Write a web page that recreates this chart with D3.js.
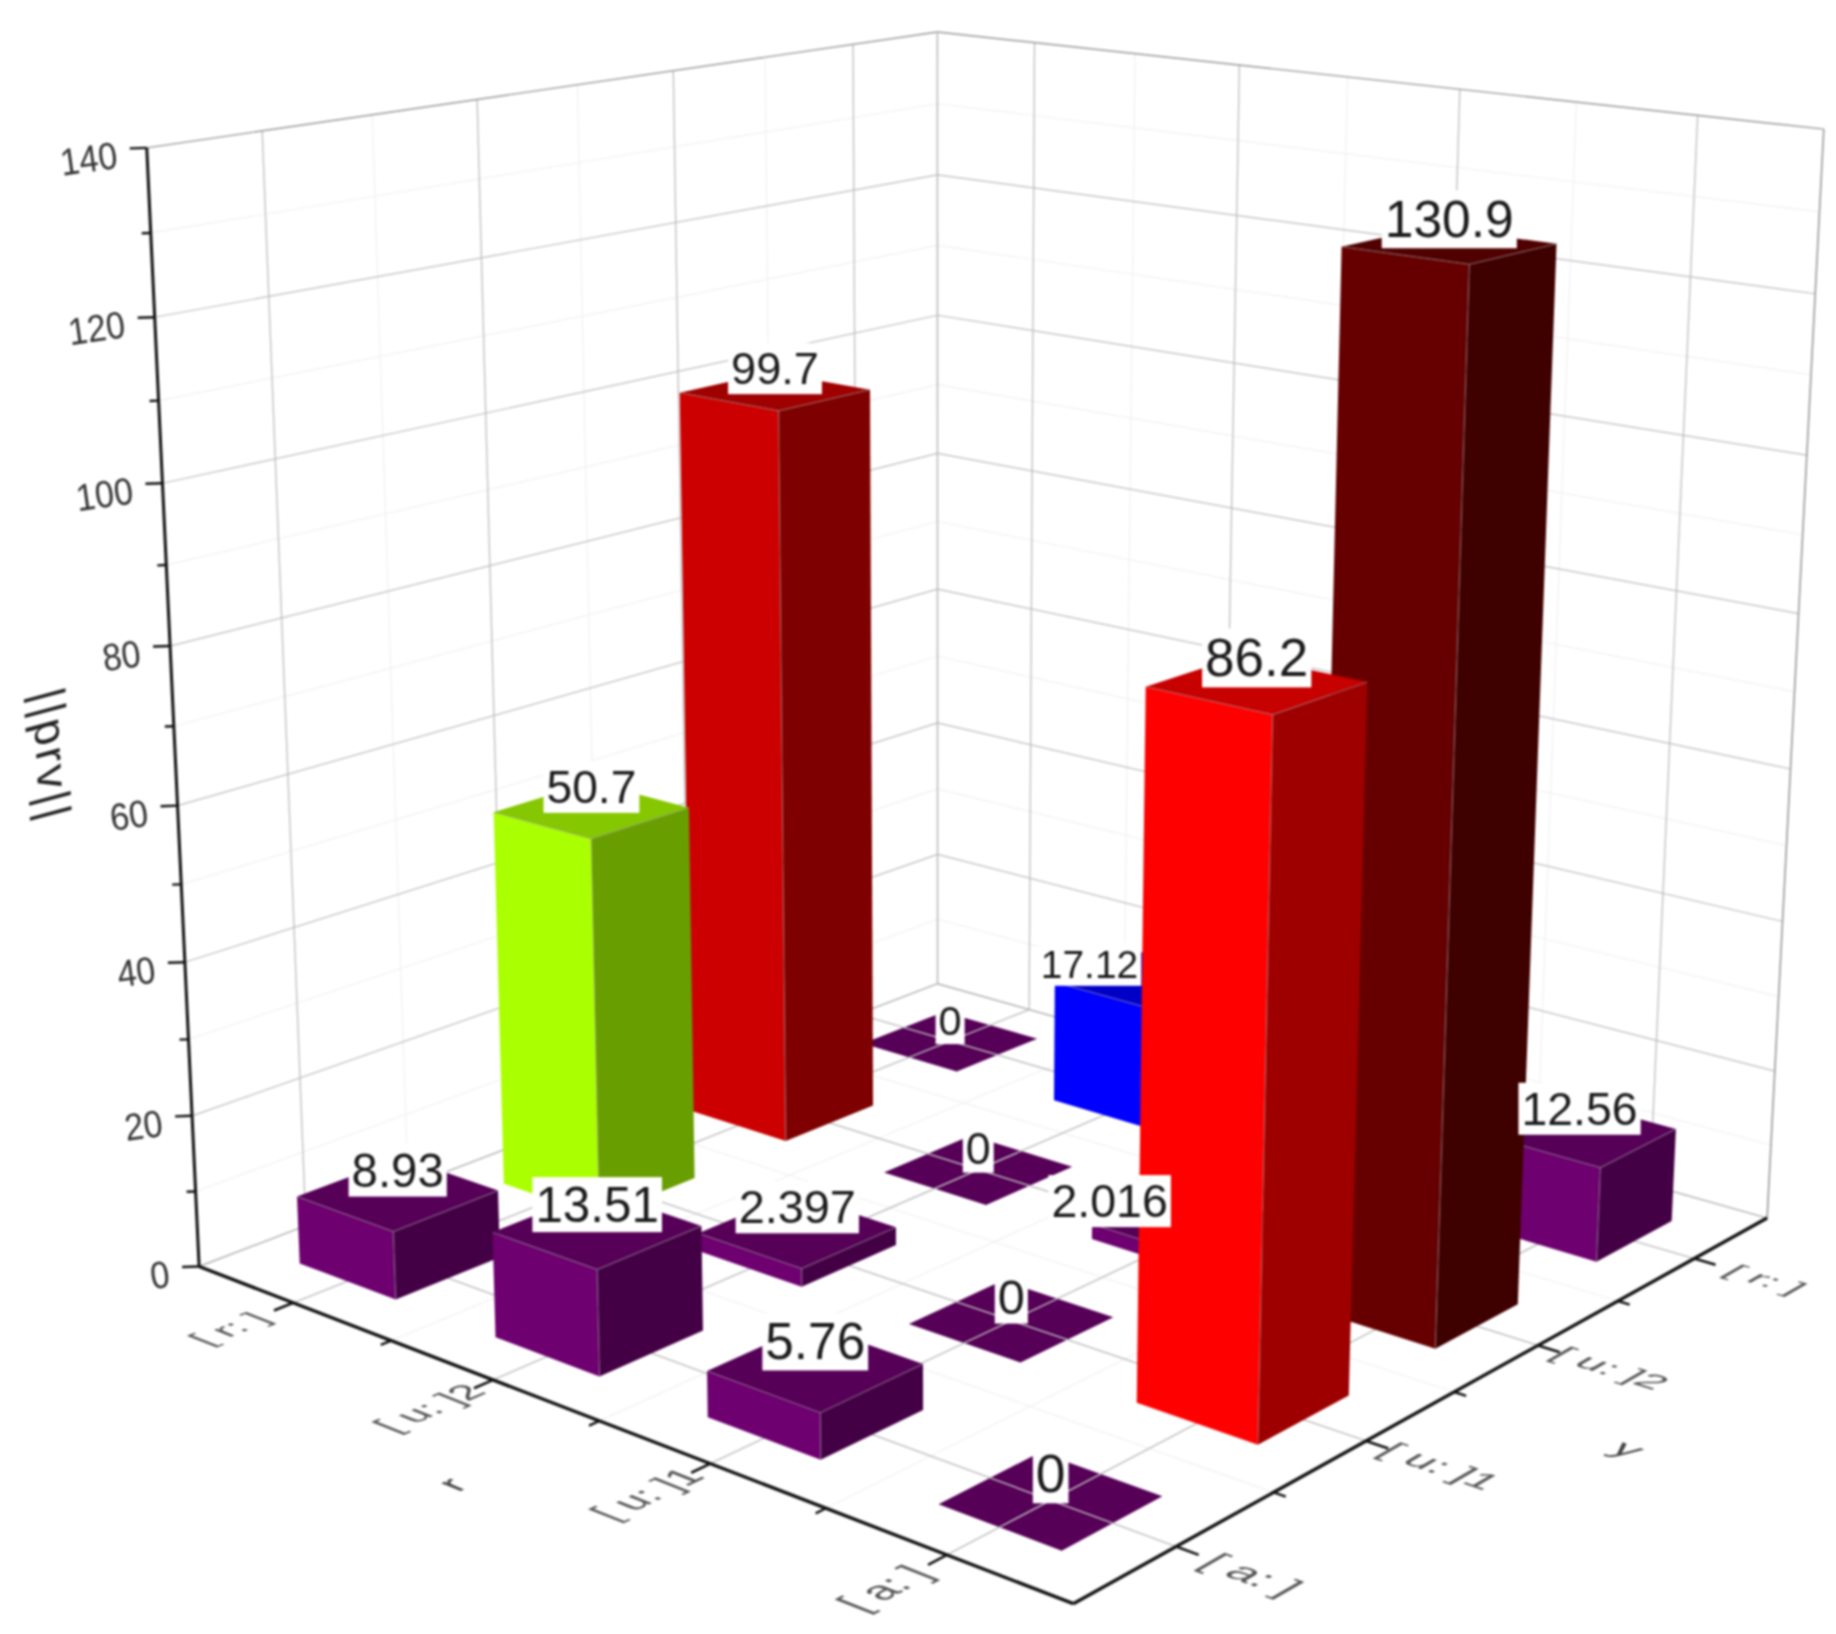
<!DOCTYPE html>
<html>
<head>
<meta charset="utf-8">
<script src="https://cdn.jsdelivr.net/npm/d3@7"></script>
<style>
  body { margin: 0; background: #fff; }
  svg { display: block; filter: blur(0.8px); }
  text { font-family: "Liberation Sans", Arial, sans-serif; }
</style>
</head>
<body>
<script>
var width = 1836;
var height = 1634;

// Categories, ticks and values.
var rCats = ['[ r: ]', '[ u: ]2', '[ u: ]1', '[ a: ]'];
var yCats = ['[ r: ]', '[ u: ]2', '[ u: ]1', '[ a: ]'];
var zMajor = [0, 20, 40, 60, 80, 100, 120, 140];
var zMinor = [10, 30, 50, 70, 90, 110, 130];
// One row per y category, one entry per r category. null = hidden in the picture.
var rowR = [0, 17.12, null, 12.56];
var rowU2 = [99.7, 0, 2.016, 130.9];
var rowU1 = [50.7, 2.397, 0, 86.2];
var rowA = [8.93, 13.51, 5.76, 0];
var rows = [rowR, rowU2, rowU1, rowA];

// Where the box corners land on the page, used to fit the perspective.
var boxWorld = [[0,1,0],[0,0,0],[1,0,0],[1,1,0],[0,1,1],[0,0,1],[1,0,1]];
var boxPage = [[200,1267],[937,984],[1768,1217],[1072,1604],[147,147],[937,32],[1824,130]];

// Two labels were dragged off their bars in the original.
var labelMoved = {
  '17.12': {dx: -56, dy: 3, k: 0.9},
  '2.016': {dx: -80, dy: 3, k: 1}
};

// Solve x = (a0+a1u+a2v+a3w)/(1+d1u+d2v+d3w), same for y, by least squares.
function solve(A, b) {
  var n = b.length, M = A.map(function(r, i) { return r.concat(b[i]); });
  for (var i = 0; i < n; i++) {
    var p = i;
    for (var k = i + 1; k < n; k++) if (Math.abs(M[k][i]) > Math.abs(M[p][i])) p = k;
    var t = M[i]; M[i] = M[p]; M[p] = t;
    for (var k2 = 0; k2 < n; k2++) {
      if (k2 === i) continue;
      var f = M[k2][i] / M[i][i];
      for (var j = i; j <= n; j++) M[k2][j] -= f * M[i][j];
    }
  }
  return M.map(function(r, i) { return r[n] / r[i]; });
}
function fitCamera() {
  var rowsA = [], rhs = [];
  boxWorld.forEach(function(X, i) {
    var x = boxPage[i][0] / 1000, y = boxPage[i][1] / 1000;
    rowsA.push([1, X[0], X[1], X[2], 0, 0, 0, 0, -x*X[0], -x*X[1], -x*X[2]]); rhs.push(x);
    rowsA.push([0, 0, 0, 0, 1, X[0], X[1], X[2], -y*X[0], -y*X[1], -y*X[2]]); rhs.push(y);
  });
  var AtA = d3.range(11).map(function(i) {
    return d3.range(11).map(function(j) { return d3.sum(rowsA, function(r) { return r[i]*r[j]; }); });
  });
  var Atb = d3.range(11).map(function(i) { return d3.sum(rowsA, function(r, k) { return r[i]*rhs[k]; }); });
  return solve(AtA, Atb);
}
var cam = fitCamera();
function depth(u, v, w) { return 1 + cam[8]*u + cam[9]*v + cam[10]*w; }
function project(u, v, w) {
  var d = depth(u, v, w);
  return [1000*(cam[0]+cam[1]*u+cam[2]*v+cam[3]*w)/d, 1000*(cam[4]+cam[5]*u+cam[6]*v+cam[7]*w)/d];
}

// Scales.
var r = d3.scaleBand().domain(rCats).range([0, 1]);
var y = d3.scaleBand().domain(yCats).range([0, 1]);
var z = d3.scaleLinear().domain([0, 140]).range([0, 1]);
var half = r.bandwidth() / 4;
var majorPos = rCats.map(function(c) { return r(c) + r.bandwidth()/2; });
var minorPos = rCats.slice(1).map(function(c) { return r(c); });
var color = d3.scaleThreshold()
  .domain([15, 30, 70, 90, 115])
  .range(['#6e0070', '#0000ff', '#aaff00', '#ff0000', '#cc0000', '#660000']);
function shade(c, k) {
  var o = d3.rgb(c);
  return d3.rgb(o.r*k, o.g*k, o.b*k).formatHex();
}

var svg = d3.select('body').append('svg')
  .attr('width', width)
  .attr('height', height);
var path = d3.line();

function seg(g, a, b, stroke, sw) {
  var p = project(a[0], a[1], a[2]), q = project(b[0], b[1], b[2]);
  g.append('line')
    .attr('x1', p[0]).attr('y1', p[1]).attr('x2', q[0]).attr('y2', q[1])
    .attr('stroke', stroke).attr('stroke-width', sw);
}

// Walls.
var walls = svg.append('g');
var minorCol = '#f1f1f1', majorCol = '#bdbdbd';
minorPos.forEach(function(t) {
  seg(walls, [0, t, 0], [0, t, 1], minorCol, 1.2);
  seg(walls, [t, 0, 0], [t, 0, 1], minorCol, 1.2);
});
zMinor.forEach(function(t) {
  seg(walls, [0, 0, z(t)], [0, 1, z(t)], minorCol, 1.2);
  seg(walls, [0, 0, z(t)], [1, 0, z(t)], minorCol, 1.2);
});
majorPos.forEach(function(t) {
  seg(walls, [0, t, 0], [0, t, 1], majorCol, 1.3);
  seg(walls, [t, 0, 0], [t, 0, 1], majorCol, 1.3);
});
zMajor.slice(1, -1).forEach(function(t) {
  seg(walls, [0, 0, z(t)], [0, 1, z(t)], majorCol, 1.2);
  seg(walls, [0, 0, z(t)], [1, 0, z(t)], majorCol, 1.2);
});
seg(walls, [0, 0, 1], [0, 1, 1], '#999', 1.4);
seg(walls, [0, 0, 1], [1, 0, 1], '#999', 1.4);
seg(walls, [0, 0, 0], [0, 0, 1], '#bbb', 1.6);
seg(walls, [1, 0, 0], [1, 0, 1], '#999', 1.6);
seg(walls, [0, 0, 0], [0, 1, 0], '#b0b0b0', 1.4);
seg(walls, [0, 0, 0], [1, 0, 0], '#b0b0b0', 1.4);

// Flatten the matrix into bars, far ones first.
var bars = [];
rows.forEach(function(row, j) {
  row.forEach(function(val, i) {
    if (val === null) return;
    bars.push({
      value: val,
      u: r(rCats[i]) + r.bandwidth()/2,
      v: y(yCats[j]) + y.bandwidth()/2
    });
  });
});
bars.sort(function(a, b) { return (a.u + a.v) - (b.u + b.v); });

function topFace(d) {
  var w = z(d.value);
  return [project(d.u-half, d.v-half, w), project(d.u+half, d.v-half, w),
          project(d.u+half, d.v+half, w), project(d.u-half, d.v+half, w)];
}
function leftFace(d) {
  var w = z(d.value);
  return [project(d.u-half, d.v+half, w), project(d.u+half, d.v+half, w),
          project(d.u+half, d.v+half, 0), project(d.u-half, d.v+half, 0)];
}
function rightFace(d) {
  var w = z(d.value);
  return [project(d.u+half, d.v+half, w), project(d.u+half, d.v-half, w),
          project(d.u+half, d.v-half, 0), project(d.u+half, d.v+half, 0)];
}

// Zero bars lie under the floor grid, the others stand on it.
svg.append('g').selectAll('path')
  .data(bars.filter(function(d) { return d.value === 0; }))
  .enter().append('path')
  .attr('d', function(d) { return path(topFace(d)) + 'Z'; })
  .attr('fill', function(d) { return shade(color(d.value), 0.78); });

var floor = svg.append('g');
minorPos.forEach(function(t) {
  seg(floor, [t, 0, 0], [t, 1, 0], minorCol, 1.2);
  seg(floor, [0, t, 0], [1, t, 0], minorCol, 1.2);
});
majorPos.forEach(function(t) {
  seg(floor, [t, 0, 0], [t, 1, 0], majorCol, 1.4);
  seg(floor, [0, t, 0], [1, t, 0], majorCol, 1.4);
});

var barG = svg.append('g').selectAll('g')
  .data(bars.filter(function(d) { return d.value > 0; }))
  .enter().append('g');
barG.append('path')
  .attr('d', function(d) { return path(leftFace(d)) + 'Z'; })
  .attr('fill', function(d) { return color(d.value); });
barG.append('path')
  .attr('d', function(d) { return path(rightFace(d)) + 'Z'; })
  .attr('fill', function(d) { return shade(color(d.value), 0.62); });
barG.append('path')
  .attr('d', function(d) { return path(topFace(d)) + 'Z'; })
  .attr('fill', function(d) { return shade(color(d.value), 0.78); });
// Only the three edges meeting at the front top corner show.
barG.each(function(d) {
  var g = d3.select(this), w = z(d.value);
  var c = [d.u+half, d.v+half, w];
  var edge = 'rgba(150,150,150,0.45)';
  seg(g, c, [d.u+half, d.v+half, 0], edge, 1.3);
  seg(g, c, [d.u-half, d.v+half, w], edge, 1.3);
  seg(g, c, [d.u+half, d.v-half, w], edge, 1.3);
});

// Axes.
var axes = svg.append('g');
seg(axes, [0, 1, 0], [0, 1, 1], '#111', 3);
seg(axes, [0, 1, 0], [1, 1, 0], '#111', 3.4);
seg(axes, [1, 0, 0], [1, 1, 0], '#111', 3.4);

function zTick(t, len) {
  var p = project(0, 1, z(t));
  axes.append('line')
    .attr('x1', p[0]).attr('y1', p[1]).attr('x2', p[0]-len).attr('y2', p[1]+len*0.03)
    .attr('stroke', '#111').attr('stroke-width', 2.4);
}
zMajor.forEach(function(t) { zTick(t, 17); });
zMinor.forEach(function(t) { zTick(t, 9); });
axes.selectAll('.zlabel')
  .data(zMajor)
  .enter().append('text')
  .attr('class', 'zlabel')
  .attr('transform', function(d) {
    var p = project(0, 1, z(d));
    return 'translate(' + (p[0]-28) + ',' + (p[1]+20) + ') rotate(-8) scale(0.9,1)';
  })
  .attr('text-anchor', 'end')
  .attr('font-size', 38)
  .attr('fill', '#333')
  .text(function(d) { return d; });

majorPos.forEach(function(t) {
  seg(axes, [t, 1, 0], [t, 1.022, 0], '#111', 2.6);
  seg(axes, [1, t, 0], [1.022, t, 0], '#111', 2.6);
});
minorPos.forEach(function(t) {
  seg(axes, [t, 1, 0], [t, 1.012, 0], '#111', 2.4);
  seg(axes, [1, t, 0], [1.012, t, 0], '#111', 2.4);
});

// Category labels lie flat on the floor, so map text through the local perspective.
var em = 0.042, localSize = 20;
function floorText(txt, u, v, base, down, size, fill) {
  var e = 0.001;
  var p = project(u, v, 0);
  var pu = project(u+e, v, 0), pv = project(u, v+e, 0);
  var ju = [(pu[0]-p[0])/e, (pu[1]-p[1])/e], jv = [(pv[0]-p[0])/e, (pv[1]-p[1])/e];
  var k = size / localSize;
  var bx = base[0]*ju[0] + base[1]*jv[0], by = base[0]*ju[1] + base[1]*jv[1];
  var dx = down[0]*ju[0] + down[1]*jv[0], dy = down[0]*ju[1] + down[1]*jv[1];
  svg.append('text')
    .attr('transform', 'matrix(' + [bx*k, by*k, dx*k, dy*k, p[0], p[1]].join(',') + ')')
    .attr('font-size', localSize)
    .attr('text-anchor', 'middle')
    .attr('dy', '0.35em')
    .attr('fill', fill)
    .text(txt);
}
rCats.forEach(function(c) {
  floorText(c, r(c) + r.bandwidth()/2, 1.073, [0, -1], [1, 0], em, '#555');
});
yCats.forEach(function(c) {
  floorText(c, 1.073, y(c) + y.bandwidth()/2, [1, 0], [0, 1], em, '#555');
});
floorText('r', 0.495, 1.16, [0, -1], [1, 0], em, '#444');
floorText('y', 1.17, 0.5, [1, 0], [0, 1], em, '#444');

// Vertical axis title.
svg.append('text')
  .attr('transform', 'matrix(0.05,1,-0.966,0.259,52,755)')
  .attr('font-size', 46)
  .attr('letter-spacing', 3)
  .attr('text-anchor', 'middle')
  .attr('dy', '0.35em')
  .attr('fill', '#222')
  .text('||prv||');

// Value labels, on top of everything.
var labels = svg.append('g');
bars.forEach(function(d) {
  var w = z(d.value);
  var p = project(d.u, d.v, w);
  var moved = labelMoved[d.value] || {dx: 0, dy: 0, k: 1};
  var px = p[0] + moved.dx, py = p[1] + 3 + moved.dy;
  var size = moved.k * 40 / depth(d.u, d.v, w);
  var g = labels.append('g');
  var box = g.append('rect').attr('fill', '#fff');
  var t = g.append('text')
    .attr('x', px)
    .attr('y', py)
    .attr('text-anchor', 'middle')
    .attr('font-size', size)
    .attr('fill', '#1a1a1a')
    .text(d.value);
  var bb = t.node().getBBox();
  var up = bb.y + bb.height - py;
  t.attr('y', py - up);
  box.attr('x', bb.x - 3).attr('y', bb.y - up)
    .attr('width', bb.width + 6).attr('height', bb.height);
});
</script>
</body>
</html>
